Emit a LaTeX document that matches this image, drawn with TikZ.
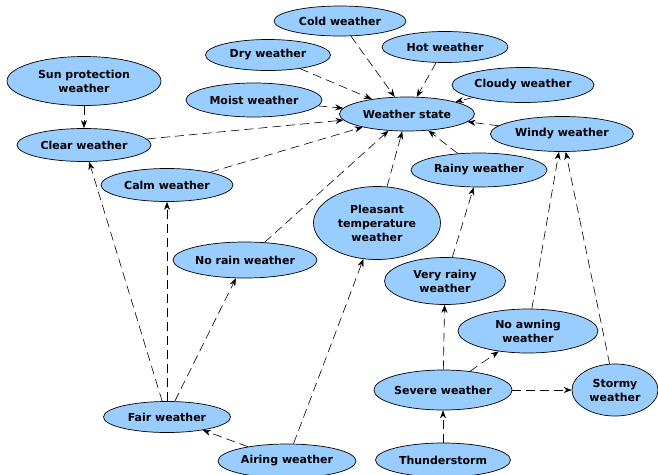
\documentclass[tikz,border=0pt]{standalone}
\usepackage{fontspec}
\setmainfont{DejaVu Sans}
\usepackage{tikz}
\usetikzlibrary{shapes.geometric,arrows.meta}
\definecolor{wblue}{RGB}{153,204,255}

\begin{document}
\begin{tikzpicture}[x=1pt, y=-1pt,
    wnode/.style={draw, ellipse, fill=wblue, line width=0.7pt, inner sep=0pt, align=center,
        font=\fontsize{11}{14}\selectfont\bfseries},
    link/.style={-{Stealth[length=8pt, width=6pt]}, line width=0.6pt, dash pattern=on 9pt off 5pt}]
\useasboundingbox (0,0) rectangle (658,474);
% Nodes
\node[wnode, minimum width=132, minimum height=30] (cold) at (340,21) {Cold weather};
\node[wnode, minimum width=125, minimum height=31] (dry) at (268,55) {Dry weather};
\node[wnode, minimum width=126, minimum height=31] (hot) at (445,47) {Hot weather};
\node[wnode, minimum width=154, minimum height=49] (sun) at (84,81) {Sun protection\\weather};
\node[wnode, minimum width=136, minimum height=34] (moist) at (254,100) {Moist weather};
\node[wnode, minimum width=142, minimum height=35] (cloudy) at (523,85) {Cloudy weather};
\node[wnode, minimum width=135, minimum height=34] (state) at (407,114) {Weather state};
\node[wnode, minimum width=134, minimum height=33] (clear) at (84,145) {Clear weather};
\node[wnode, minimum width=143, minimum height=35] (windy) at (562,134) {Windy weather};
\node[wnode, minimum width=132, minimum height=33] (calm) at (167,185) {Calm weather};
\node[wnode, minimum width=136, minimum height=34] (rainy) at (479,170) {Rainy weather};
\node[wnode, minimum width=127, minimum height=73] (pleasant) at (377,223) {Pleasant\\temperature\\weather};
\node[wnode, minimum width=144, minimum height=36] (norain) at (245,260) {No rain weather};
\node[wnode, minimum width=121, minimum height=47] (veryrainy) at (445,281) {Very rainy\\weather};
\node[wnode, minimum width=140, minimum height=44] (noawning) at (528,331) {No awning\\weather};
\node[wnode, minimum width=134, minimum height=40] (severe) at (443,390) {Severe weather};
\node[wnode, minimum width=86, minimum height=52] (stormy) at (615,390) {Stormy\\weather};
\node[wnode, minimum width=127, minimum height=31] (fair) at (167,417) {Fair weather};
\node[wnode, minimum width=138, minimum height=34] (airing) at (287,461) {Airing weather};
\node[wnode, minimum width=135, minimum height=34] (thunder) at (443,460) {Thunderstorm};

% Arrows
\foreach \src in {cold, dry, hot, moist, cloudy, clear, windy, calm, rainy, pleasant, norain}
    \draw[link] (\src) -- (state);
\draw[link] (sun) -- (clear);
\draw[link] (fair) -- (clear);
\draw[link] (fair) -- (calm);
\draw[link] (fair) -- (norain);
\draw[link] (airing) -- (fair);
\draw[link] (airing) -- (pleasant);
\draw[link] (veryrainy) -- (rainy);
\draw[link] (severe) -- (veryrainy);
\draw[link] (severe) -- (noawning);
\draw[link] (severe) -- (stormy);
\draw[link] (thunder) -- (severe);
\draw[link] (noawning) -- (windy);
\draw[link] (stormy) -- (windy);
\end{tikzpicture}
\end{document}
